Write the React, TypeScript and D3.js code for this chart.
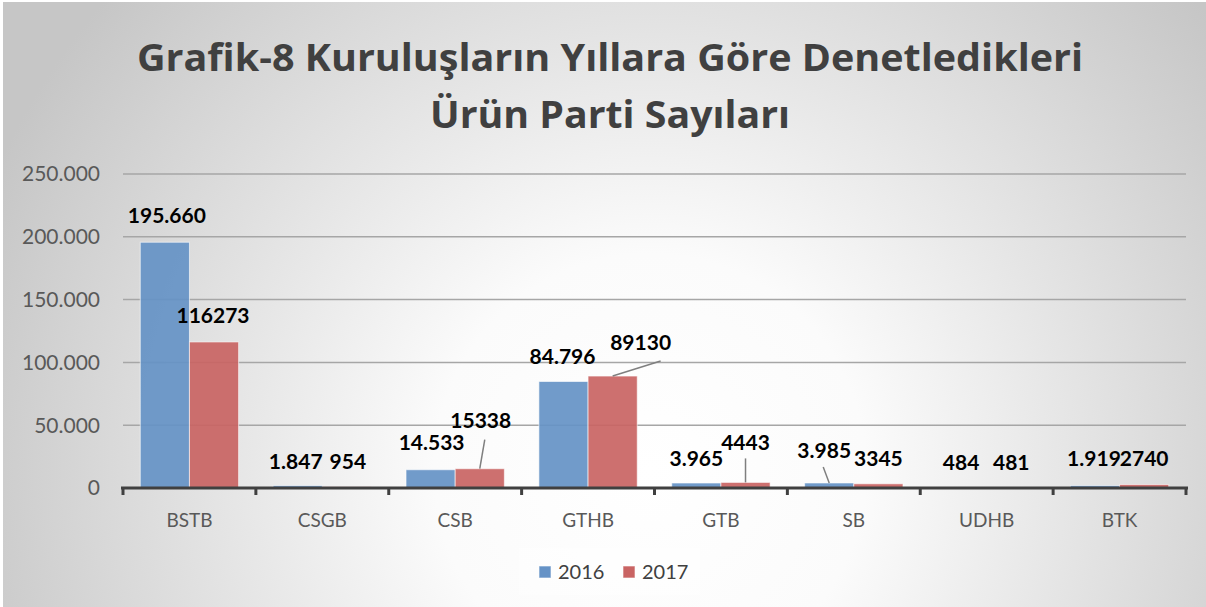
import React from "react";
import * as d3 from "d3";

const categories = ["BSTB", "CSGB", "CSB", "GTHB", "GTB", "SB", "UDHB", "BTK"];
const series2016 = [195660, 1847, 14533, 84796, 3965, 3985, 484, 1919];
const series2017 = [116273, 954, 15338, 89130, 4443, 3345, 481, 2740];
const seriesNames = ["2016", "2017"];
const yTicks = [0, 50000, 100000, 150000, 200000, 250000];
const titleLines = ["Grafik-8 Kuruluşların Yıllara Göre Denetledikleri", "Ürün Parti Sayıları"];

// label layout offsets (dx, dy from bar top centre) per series
const labelOffsets2016 = [[2, -27], [-2, -24], [1, -27], [-1, -25], [0, -25], [-5, -33], [-1, -25], [-1, -27]];
const labelOffsets2017 = [[-1, -27], [1, -25], [1, -48], [28, -34], [0, -40], [0, -25], [0, -25], [0, -26]];
// leader lines: end point relative to label centre (null = none)
const leaders2016: (number[] | null)[] = [null, null, null, null, null, [-1, 17], null, null];
const leaders2017: (number[] | null)[] = [null, null, [4, 19], [20, 19], [0, 16], null, null, null];

const W = 1206;
const H = 607;
const plot = { left: 123, right: 1186, top: 174, bottom: 488 };
const colors = ["#6592c6", "#c96463"];
const titleWidths = [946, 360];

const trFormat = d3.formatLocale({ decimal: ",", thousands: ".", grouping: [3], currency: ["", "₺"] }).format(",d");

export default function App() {
  const x0 = d3.scaleBand<string>().domain(categories).range([plot.left, plot.right]).paddingInner(0.26).paddingOuter(0.13);
  const x1 = d3.scaleBand<string>().domain(seriesNames).range([0, x0.bandwidth()]).padding(0);
  const y = d3.scaleLinear().domain([0, 250000]).range([plot.bottom, plot.top]);
  const band = d3.scaleBand<string>().domain(categories).range([plot.left, plot.right]);
  const seriesData = [series2016, series2017];
  const offsets = [labelOffsets2016, labelOffsets2017];
  const leaders = [leaders2016, leaders2017];
  const fmt = [(v: number) => trFormat(v), (v: number) => String(v)];
  const font = "Lato, 'Open Sans', sans-serif";

  return (
    <svg width={W} height={H} style={{ position: "absolute", left: 0, top: 0 }} fontFamily={font}>
      <defs>
        <radialGradient id="bg" gradientUnits="userSpaceOnUse" cx={650} cy={470} r={720}>
          <stop offset="0" stopColor="#ffffff" />
          <stop offset="0.3" stopColor="#fbfbfb" />
          <stop offset="1" stopColor="#c6c6c6" />
        </radialGradient>
      </defs>
      <rect x={0} y={0} width={W} height={H} fill="#ffffff" />
      <rect x={3} y={2} width={W - 3} height={H - 2} fill="url(#bg)" />
      {titleLines.map((t, i) => (
        <text
          key={i}
          x={610}
          y={71 + i * 57}
          textAnchor="middle"
          fontSize={37}
          fontWeight={700}
          fill="#404040"
          fontFamily="'Open Sans', sans-serif"
          textLength={titleWidths[i]}
          lengthAdjust="spacingAndGlyphs"
        >
          {t}
        </text>
      ))}
      {yTicks.map((t) => (
        <g key={t}>
          {t > 0 && <line x1={plot.left} x2={plot.right} y1={y(t)} y2={y(t)} stroke="#a6a6a6" strokeWidth={1.5} />}
          <text x={100} y={y(t)} dy="0.35em" textAnchor="end" fontSize={21} fill="#595959">
            {t === 0 ? "0" : trFormat(t)}
          </text>
        </g>
      ))}
      {categories.map((c, i) => (
        <g key={c}>
          {seriesData.map((s, si) => (
            <rect
              key={si}
              x={(x0(c) as number) + (x1(seriesNames[si]) as number)}
              y={y(s[i])}
              width={x1.bandwidth()}
              height={plot.bottom - y(s[i])}
              fill={colors[si]}
              fillOpacity={0.92}
              stroke="#ffffff"
              strokeOpacity={0.6}
              strokeWidth={1}
            />
          ))}
        </g>
      ))}
      <line x1={plot.left - 2} x2={plot.right + 2} y1={plot.bottom} y2={plot.bottom} stroke="#404040" strokeWidth={3} />
      {band.domain().concat(["__end"]).map((c, i) => {
        const xx = i < categories.length ? (band(c) as number) : plot.right;
        return <line key={i} x1={xx} x2={xx} y1={plot.bottom} y2={plot.bottom + 7} stroke="#404040" strokeWidth={3} />;
      })}
      {categories.map((c) => (
        <text key={c} x={(band(c) as number) + band.bandwidth() / 2} y={520} dy="0.35em" textAnchor="middle" fontSize={19} fill="#595959">
          {c}
        </text>
      ))}
      {categories.map((c, i) =>
        seriesData.map((s, si) => {
          const bx = (x0(c) as number) + (x1(seriesNames[si]) as number) + x1.bandwidth() / 2;
          const by = y(s[i]);
          const [dx, dy] = offsets[si][i];
          const lx = bx + dx;
          const ly = by + dy;
          const ld = leaders[si][i];
          return (
            <g key={c + si}>
              {ld && <line x1={bx} y1={by} x2={lx + ld[0]} y2={ly + ld[1]} stroke="#7f7f7f" strokeWidth={1.5} />}
              <text x={lx} y={ly} dy="0.36em" textAnchor="middle" fontSize={21} fontWeight={700} fill="#000000">
                {fmt[si](s[i])}
              </text>
            </g>
          );
        })
      )}
      <rect x={519} y={548} width={181} height={47} fill="#ffffff" fillOpacity={0.35} />
      {seriesNames.map((n, i) => (
        <g key={n} transform={`translate(${539 + i * 84},566)`}>
          <rect x={0} y={0} width={12} height={12} fill={colors[i]} stroke="#ffffff" strokeOpacity={0.6} />
          <text x={19} y={6} dy="0.36em" fontSize={20} fill="#404040">
            {n}
          </text>
        </g>
      ))}
    </svg>
  );
}
